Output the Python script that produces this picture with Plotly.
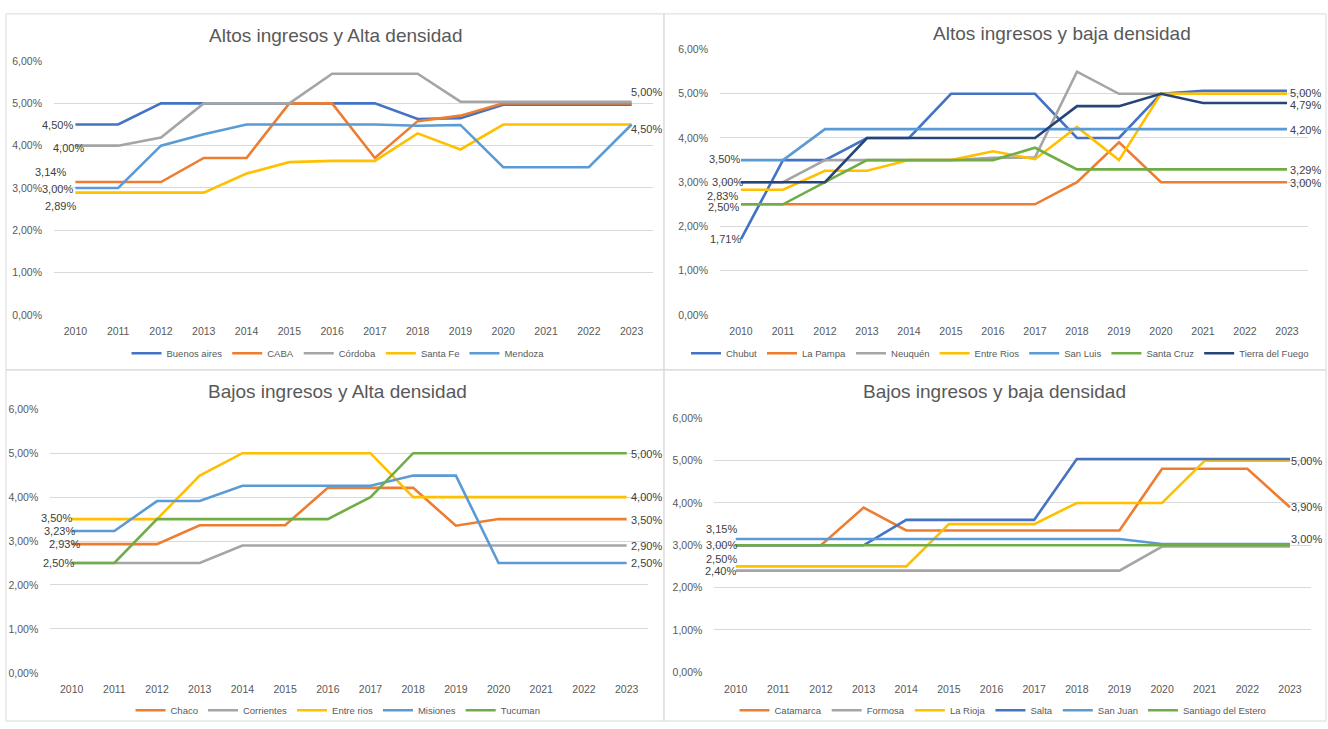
import plotly.graph_objects as go

# ---------------- data ----------------
years = ["2010", "2011", "2012", "2013", "2014", "2015", "2016",
         "2017", "2018", "2019", "2020", "2021", "2022", "2023"]

# Panel 1: Altos ingresos y Alta densidad
p1_title = "Altos ingresos y Alta densidad"
buenos_aires = [4.50, 4.50, 5.00, 5.00, 5.00, 5.00, 5.00, 5.00, 4.63, 4.65, 4.97, 4.97, 4.97, 4.97]
caba = [3.14, 3.14, 3.14, 3.71, 3.71, 5.00, 5.00, 3.71, 4.58, 4.71, 5.00, 5.00, 5.00, 5.00]
cordoba = [4.00, 4.00, 4.19, 5.00, 5.00, 5.00, 5.70, 5.70, 5.70, 5.04, 5.04, 5.04, 5.04, 5.04]
santa_fe = [2.89, 2.89, 2.89, 2.89, 3.34, 3.61, 3.64, 3.64, 4.29, 3.91, 4.50, 4.50, 4.50, 4.50]
mendoza = [3.00, 3.00, 4.00, 4.27, 4.50, 4.50, 4.50, 4.50, 4.47, 4.49, 3.49, 3.49, 3.49, 4.50]

# Panel 2: Altos ingresos y baja densidad
p2_title = "Altos ingresos y baja densidad"
chubut = [1.71, 3.50, 3.50, 4.00, 4.00, 5.00, 5.00, 5.00, 4.00, 4.00, 5.00, 5.07, 5.07, 5.07]
la_pampa = [2.50, 2.50, 2.50, 2.50, 2.50, 2.50, 2.50, 2.50, 3.00, 3.90, 3.00, 3.00, 3.00, 3.00]
neuquen = [3.00, 3.00, 3.50, 3.50, 3.50, 3.50, 3.55, 3.56, 5.50, 5.00, 5.00, 5.00, 5.00, 5.00]
entre_rios_a = [2.83, 2.83, 3.26, 3.26, 3.50, 3.50, 3.70, 3.52, 4.25, 3.50, 5.00, 5.00, 5.00, 5.00]
san_luis = [3.50, 3.50, 4.20, 4.20, 4.20, 4.20, 4.20, 4.20, 4.20, 4.20, 4.20, 4.20, 4.20, 4.20]
santa_cruz = [2.50, 2.50, 3.00, 3.50, 3.50, 3.50, 3.50, 3.78, 3.29, 3.29, 3.29, 3.29, 3.29, 3.29]
tierra_del_fuego = [3.00, 3.00, 3.00, 4.00, 4.00, 4.00, 4.00, 4.00, 4.72, 4.72, 5.00, 4.79, 4.79, 4.79]

# Panel 3: Bajos ingresos y Alta densidad
p3_title = "Bajos ingresos y Alta densidad"
chaco = [2.93, 2.93, 2.93, 3.36, 3.36, 3.36, 4.21, 4.21, 4.21, 3.35, 3.50, 3.50, 3.50, 3.50]
corrientes = [2.50, 2.50, 2.50, 2.50, 2.90, 2.90, 2.90, 2.90, 2.90, 2.90, 2.90, 2.90, 2.90, 2.90]
entre_rios_b = [3.50, 3.50, 3.50, 4.49, 5.00, 5.00, 5.00, 5.00, 4.00, 4.00, 4.00, 4.00, 4.00, 4.00]
misiones = [3.23, 3.23, 3.91, 3.91, 4.26, 4.26, 4.26, 4.26, 4.49, 4.49, 2.50, 2.50, 2.50, 2.50]
tucuman = [2.50, 2.50, 3.50, 3.50, 3.50, 3.50, 3.50, 4.00, 5.00, 5.00, 5.00, 5.00, 5.00, 5.00]

# Panel 4: Bajos ingresos y baja densidad
p4_title = "Bajos ingresos y baja densidad"
catamarca = [3.00, 3.00, 3.00, 3.89, 3.35, 3.35, 3.35, 3.35, 3.35, 3.35, 4.81, 4.81, 4.81, 3.90]
formosa = [2.40, 2.40, 2.40, 2.40, 2.40, 2.40, 2.40, 2.40, 2.40, 2.40, 2.97, 2.97, 2.97, 2.97]
la_rioja = [2.50, 2.50, 2.50, 2.50, 2.50, 3.50, 3.50, 3.50, 4.00, 4.00, 4.00, 5.00, 5.00, 5.00]
salta = [3.00, 3.00, 3.00, 3.00, 3.60, 3.60, 3.60, 3.60, 5.04, 5.04, 5.04, 5.04, 5.04, 5.04]
san_juan = [3.15, 3.15, 3.15, 3.15, 3.15, 3.15, 3.15, 3.15, 3.15, 3.15, 3.03, 3.03, 3.03, 3.03]
santiago = [3.00, 3.00, 3.00, 3.00, 3.00, 3.00, 3.00, 3.00, 3.00, 3.00, 3.00, 3.00, 3.00, 3.00]

# ---------------- styles ----------------
BLUE, ORANGE, GRAY, GOLD, LBLUE, GREEN, NAVY = (
    "#4472C4", "#ED7D31", "#A5A5A5", "#FFC000", "#5B9BD5", "#70AD47", "#264478")

W, H = 1328, 729
FONT = "Liberation Sans, Arial, sans-serif"


def px_x(p):
    return p / W


def px_y(p):
    return 1 - p / H


panels = [
    dict(title=p1_title,
         series=[("Buenos aires", buenos_aires, BLUE), ("CABA", caba, ORANGE),
                 ("Córdoba", cordoba, GRAY), ("Santa Fe", santa_fe, GOLD),
                 ("Mendoza", mendoza, LBLUE)],
         xdom=(54, 653), ydom=(314, 56), title_pos=(336, 30), legend_pos=(338, 353),
         labels=[("Buenos aires", 0, -1, 0), ("Córdoba", 0, 10, -2), ("CABA", 0, -8, 10),
                 ("Mendoza", 0, -1, -1), ("Santa Fe", 0, 2, -13),
                 ("CABA", 13, -2, 11), ("Mendoza", 13, -2, -4)]),
    dict(title=p2_title,
         series=[("Chubut", chubut, BLUE), ("La Pampa", la_pampa, ORANGE),
                 ("Neuquén", neuquen, GRAY), ("Entre Rios", entre_rios_a, GOLD),
                 ("San Luis", san_luis, LBLUE), ("Santa Cruz", santa_cruz, GREEN),
                 ("Tierra del Fuego", tierra_del_fuego, NAVY)],
         xdom=(720, 1308), ydom=(314, 44.3), title_pos=(1062, 28), legend_pos=(1000, 353),
         labels=[("San Luis", 0, 0, 1), ("Tierra del Fuego", 0, 3, 0), ("Entre Rios", 0, -2, -6),
                 ("Santa Cruz", 0, -1, -3), ("Chubut", 0, 1, 0),
                 ("Entre Rios", 13, 2, 1), ("Tierra del Fuego", 13, 2, -2),
                 ("San Luis", 13, 2, -1), ("Santa Cruz", 13, 2, -1), ("La Pampa", 13, 2, -1)]),
    dict(title=p3_title,
         series=[("Chaco", chaco, ORANGE), ("Corrientes", corrientes, GRAY),
                 ("Entre rios", entre_rios_b, GOLD), ("Misiones", misiones, LBLUE),
                 ("Tucuman", tucuman, GREEN)],
         xdom=(50.3, 648), ydom=(678, 410), title_pos=(337, 392), legend_pos=(338, 716),
         labels=[("Entre rios", 0, 1, 1), ("Misiones", 0, 4, 0), ("Chaco", 0, 9, 0),
                 ("Tucuman", 0, 3, 0),
                 ("Tucuman", 13, 3, -1), ("Entre rios", 13, 3, 0), ("Chaco", 13, 3, -1),
                 ("Corrientes", 13, 3, -1), ("Misiones", 13, 3, 0)]),
    dict(title=p4_title,
         series=[("Catamarca", catamarca, ORANGE), ("Formosa", formosa, GRAY),
                 ("La Rioja", la_rioja, GOLD), ("Salta", salta, BLUE),
                 ("San Juan", san_juan, LBLUE), ("Santiago del Estero", santiago, GREEN)],
         xdom=(714.4, 1311.3), ydom=(677.3, 419.3), title_pos=(994, 392), legend_pos=(1003, 716),
         labels=[("San Juan", 0, 2, 10), ("Santiago del Estero", 0, 2, 0),
                 ("La Rioja", 0, 2, 7), ("Formosa", 0, 1, 0),
                 ("La Rioja", 13, 0, 0), ("Catamarca", 13, 0, 0),
                 ("Santiago del Estero", 13, 0, 6)]),
]


def fmt(v):
    return f"{v:.2f}".replace(".", ",") + "%"


fig = go.Figure()
layout = dict(width=W, height=H, margin=dict(l=0, r=0, t=0, b=0),
              paper_bgcolor="white", plot_bgcolor="white",
              separators=",.", font=dict(family=FONT, color="#595959"),
              annotations=[], shapes=[], showlegend=True)

for i, p in enumerate(panels):
    sfx = "" if i == 0 else str(i + 1)
    values = {}
    for name, vals, color in p["series"]:
        values[name] = vals
        fig.add_trace(go.Scatter(
            x=years, y=[v / 100 for v in vals], mode="lines", name=name,
            line=dict(color=color, width=2.6), xaxis="x" + sfx, yaxis="y" + sfx,
            legend="legend" + sfx, hoverinfo="skip"))
    layout["xaxis" + sfx] = dict(
        domain=[px_x(p["xdom"][0]), px_x(p["xdom"][1])], anchor="y" + sfx,
        type="category", range=[-0.5, 13.5], showgrid=False, showline=False,
        zeroline=False, ticks="", tickfont=dict(size=10.5, color="#595959"),
        ticklabelstandoff=9, fixedrange=True)
    layout["yaxis" + sfx] = dict(
        domain=[px_y(p["ydom"][0]), px_y(p["ydom"][1])], anchor="x" + sfx,
        range=[0, 0.06], dtick=0.01, tick0=0, tickformat=".2%",
        showgrid=True, gridcolor="#D9D9D9", gridwidth=1, showline=False,
        zeroline=False, ticks="", tickfont=dict(size=10.5, color="#595959"),
        ticklabelstandoff=11, fixedrange=True)
    layout["legend" + sfx] = dict(
        orientation="h", x=px_x(p["legend_pos"][0]), xanchor="center",
        y=px_y(p["legend_pos"][1]), yanchor="middle",
        font=dict(size=9.5, color="#595959", family=FONT),
        bgcolor="rgba(0,0,0,0)", itemwidth=30, tracegroupgap=0)
    layout["annotations"].append(dict(
        text=p["title"], xref="paper", yref="paper",
        x=px_x(p["title_pos"][0]), y=px_y(p["title_pos"][1]),
        xanchor="center", yanchor="middle", showarrow=False,
        font=dict(size=19, color="#595959", family=FONT)))
    for name, idx, dx, dy in p["labels"]:
        v = values[name][idx]
        layout["annotations"].append(dict(
            text=fmt(v), xref="x" + sfx, yref="y" + sfx, x=idx, y=v / 100,
            xanchor="right" if idx == 0 else "left", yanchor="middle",
            xshift=dx, yshift=dy, showarrow=False, borderpad=0,
            font=dict(size=11, color="#404040", family=FONT)))

# panel borders
for x0, y0, x1, y1 in [(6, 8, 664, 370), (664, 8, 1326, 370),
                       (6, 370, 664, 727), (664, 370, 1326, 727)]:
    layout["shapes"].append(dict(
        type="rect", xref="paper", yref="paper",
        x0=px_x(x0), x1=px_x(x1), y0=px_y(y1), y1=px_y(y0),
        line=dict(color="#D9D9D9", width=1), fillcolor="rgba(0,0,0,0)", layer="below"))

fig.update_layout(**layout)
fig.write_html("out.html", config={"displayModeBar": False},
               post_script="document.body.style.margin='0px';"
                           "document.body.style.overflow='hidden';")
